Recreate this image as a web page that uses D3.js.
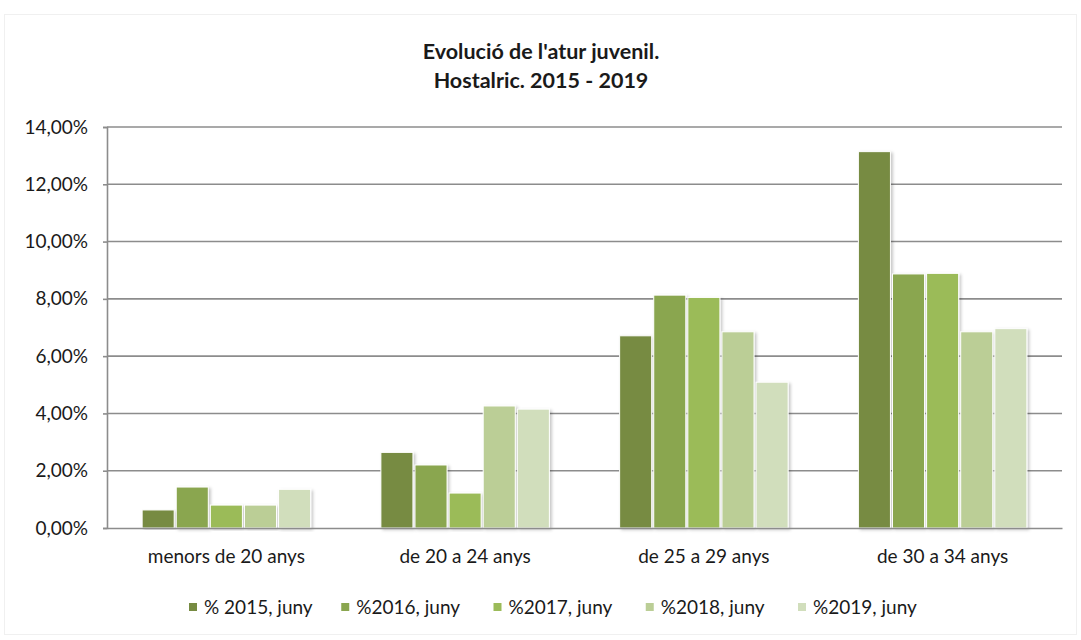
<!DOCTYPE html>
<meta charset="utf-8">
<script src="https://d3js.org/d3.v7.min.js"></script>
<style>
  body { margin: 0; background: #fff; }
  text { font-family: Lato, "Open Sans", sans-serif; fill: #1a1a1a; }
</style>
<div id="chart"></div>
<script>

// data
const groups = ["menors de 20 anys", "de 20 a 24 anys", "de 25 a 29 anys", "de 30 a 34 anys"];
const seriesNames = ["% 2015, juny", "%2016, juny", "%2017, juny", "%2018, juny", "%2019, juny"];
const v2015 = [0.0063, 0.0264, 0.0671, 0.1314];
const v2016 = [0.0143, 0.0220, 0.0813, 0.0887];
const v2017 = [0.0080, 0.0122, 0.0805, 0.0889];
const v2018 = [0.0080, 0.0426, 0.0685, 0.0685];
const v2019 = [0.0135, 0.0415, 0.0509, 0.0696];
const yTicks = [0, 0.02, 0.04, 0.06, 0.08, 0.10, 0.12, 0.14];
const colors = ["#778b42", "#8aa64f", "#9bbb59", "#bbce96", "#d1debc"];

const allSeries = [v2015, v2016, v2017, v2018, v2019];

const W = 1081, H = 640;
const margin = {top: 127, right: 20, bottom: 112, left: 107};
const width = 1062 - margin.left;
const height = 528 - margin.top;

const svg = d3.select("#chart").append("svg")
  .attr("width", W)
  .attr("height", H);

// drop shadow for bars
const defs = svg.append("defs");
const f = defs.append("filter").attr("id", "shadow")
  .attr("x", "-20%").attr("y", "-5%").attr("width", "150%").attr("height", "115%");
f.append("feDropShadow")
  .attr("dx", 2).attr("dy", 1.5).attr("stdDeviation", 1.6)
  .attr("flood-color", "#000").attr("flood-opacity", 0.22);

// faint chart frame
svg.append("rect")
  .attr("x", 4.5).attr("y", 14.5).attr("width", W - 9).attr("height", H - 20)
  .attr("fill", "none").attr("stroke", "#f0f0f0");

// title
const title = svg.append("text")
  .attr("x", 541).attr("text-anchor", "middle")
  .style("font-weight", "bold").style("font-size", "21.5px");
title.append("tspan").attr("x", 541).attr("y", 59).text("Evolució de l'atur juvenil.");
title.append("tspan").attr("x", 541).attr("y", 88).text("Hostalric. 2015 - 2019");

const g = svg.append("g").attr("transform", `translate(${margin.left},${margin.top})`);

const x0 = d3.scaleBand().domain(groups).range([0, width]).paddingInner(0).paddingOuter(0);
const x1 = d3.scaleBand().domain(d3.range(seriesNames.length))
  .range([0, x0.bandwidth()]).paddingInner(0.06).paddingOuter(1.03);
const y = d3.scaleLinear().domain([0, 0.14]).range([height, 0]);

const fmt = d => d3.format(".2f")(d * 100).replace(".", ",") + "%";

// gridlines
g.append("g")
  .selectAll("line")
  .data(yTicks.slice(1))
  .join("line")
    .attr("x1", 0).attr("x2", width)
    .attr("y1", d => y(d)).attr("y2", d => y(d))
    .attr("stroke", "#8c8c8c").attr("stroke-width", 1.6);

// y axis
const yAxis = g.append("g")
  .call(d3.axisLeft(y).tickValues(yTicks).tickFormat(fmt).tickSize(4).tickPadding(15));
yAxis.select(".domain").attr("stroke", "#8c8c8c").attr("stroke-width", 1.6);
yAxis.selectAll(".tick line").attr("stroke", "#8c8c8c").attr("stroke-width", 1.6);
yAxis.selectAll("text").style("font-size", "19px").attr("fill", "#1a1a1a");

// bars
const grp = g.selectAll(".grp")
  .data(groups)
  .join("g")
    .attr("class", "grp")
    .attr("transform", d => `translate(${x0(d)},0)`);

grp.selectAll("rect")
  .data((d, i) => allSeries.map((s, k) => ({k: k, v: s[i]})))
  .join("rect")
    .attr("x", d => x1(d.k))
    .attr("width", x1.bandwidth())
    .attr("y", d => y(d.v))
    .attr("height", d => y(0) - y(d.v))
    .attr("fill", d => colors[d.k])
    .attr("stroke", "#fff").attr("stroke-width", 1)
    .attr("filter", "url(#shadow)");

// x axis
const xAxis = g.append("g")
  .attr("transform", `translate(0,${height})`)
  .call(d3.axisBottom(x0).tickSize(0).tickPadding(22));
xAxis.select(".domain").attr("stroke", "#8c8c8c").attr("stroke-width", 1.6);
xAxis.selectAll("text").style("font-size", "19px").attr("fill", "#1a1a1a");

// legend
const legendX = d3.scalePoint().domain(seriesNames).range([189, 798]);
const legend = svg.append("g").attr("transform", "translate(0,607)");
const item = legend.selectAll("g")
  .data(seriesNames)
  .join("g")
    .attr("transform", d => `translate(${legendX(d)},0)`);
item.append("rect")
  .attr("x", 0).attr("y", -4).attr("width", 8).attr("height", 8)
  .attr("fill", (d, i) => colors[i]);
item.append("text")
  .attr("x", 15).attr("y", 6.5)
  .style("font-size", "19px")
  .text(d => d);

</script>
